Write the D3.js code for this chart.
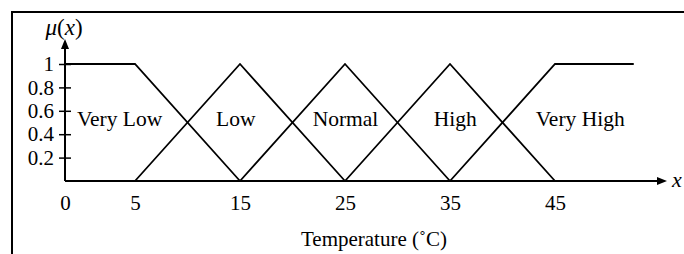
<!DOCTYPE html>
<html>
<head>
<meta charset="utf-8">
<script src="https://cdn.jsdelivr.net/npm/d3@7"></script>
<style>
  body { margin: 0; background: #fff; }
  text { font-family: "Liberation Serif", "Times New Roman", serif; fill: #000; }
</style>
</head>
<body>
<script>
// fuzzy sets for temperature, breakpoints as [x, mu]
var setNames = ["Very Low", "Low", "Normal", "High", "Very High"];
var veryLow  = [[0, 1], [5, 1], [15, 0]];
var low      = [[5, 0], [15, 1], [25, 0]];
var normal   = [[15, 0], [25, 1], [35, 0]];
var high     = [[25, 0], [35, 1], [45, 0]];
var veryHigh = [[35, 0], [45, 1], [52.5, 1]];
var setLines = [veryLow, low, normal, high, veryHigh];

// where each set's name sits, in data units
var labelX = [3.9, 14.6, 25.05, 35.5, 47.4];
var labelY = 0.47;

var xTicks = [0, 5, 15, 25, 35, 45];
var yTicks = [0.2, 0.4, 0.6, 0.8, 1];

var width = 684, height = 254;

var svg = d3.select("body").append("svg")
    .attr("width", width)
    .attr("height", height);

// frame (only top and left edges fall inside the picture)
svg.append("rect")
    .attr("x", 12).attr("y", 12)
    .attr("width", 700).attr("height", 300)
    .attr("fill", "none")
    .attr("stroke", "#000")
    .attr("stroke-width", 2);

// the 0..5 stretch is drawn wider than the rest
var x = d3.scaleLinear()
    .domain([0, 5, 45])
    .range([65, 135, 555]);

var y = d3.scaleLinear()
    .domain([0, 1])
    .range([181, 64]);

var line = d3.line()
    .x(function(d) { return x(d[0]); })
    .y(function(d) { return y(d[1]); });

svg.selectAll(".mf")
    .data(setLines)
    .enter()
    .append("path")
    .attr("class", "mf")
    .attr("d", line)
    .attr("fill", "none")
    .attr("stroke", "#000")
    .attr("stroke-width", 1.8);

// axes lines with arrows
svg.append("line")
    .attr("x1", x(0)).attr("y1", y(0))
    .attr("x2", 660).attr("y2", y(0))
    .attr("stroke", "#000").attr("stroke-width", 2);
svg.append("path")
    .attr("d", "M667," + y(0) + "L657," + (y(0) - 4) + "L657," + (y(0) + 4) + "Z")
    .attr("fill", "#000");

svg.append("line")
    .attr("x1", x(0)).attr("y1", y(0))
    .attr("x2", x(0)).attr("y2", 46)
    .attr("stroke", "#000").attr("stroke-width", 2);
svg.append("path")
    .attr("d", "M" + x(0) + ",39L" + (x(0) - 4) + ",49L" + (x(0) + 4) + ",49Z")
    .attr("fill", "#000");

// y axis ticks
var yAxis = d3.axisLeft(y)
    .tickValues(yTicks)
    .tickSize(6)
    .tickPadding(5)
    .tickFormat(function(d) { return d === 1 ? "1" : d3.format(".1f")(d); });

var gy = svg.append("g")
    .attr("transform", "translate(" + x(0) + ",0)")
    .call(yAxis);
gy.select(".domain").remove();
gy.selectAll(".tick line")
    .attr("x1", -6).attr("x2", 6)
    .attr("stroke", "#000").attr("stroke-width", 1.5);
gy.selectAll(".tick text")
    .attr("font-family", "Liberation Serif")
    .attr("font-size", 21)
    .attr("fill", "#000");

// x axis labels, no tick marks
var xAxis = d3.axisBottom(x)
    .tickValues(xTicks)
    .tickSize(0)
    .tickPadding(14);

var gx = svg.append("g")
    .attr("transform", "translate(0," + y(0) + ")")
    .call(xAxis);
gx.select(".domain").remove();
gx.selectAll(".tick text")
    .attr("font-family", "Liberation Serif")
    .attr("font-size", 21)
    .attr("fill", "#000");

// set names
svg.selectAll(".setlabel")
    .data(setNames)
    .enter()
    .append("text")
    .attr("class", "setlabel")
    .attr("x", function(d, i) { return x(labelX[i]); })
    .attr("y", y(labelY))
    .attr("text-anchor", "middle")
    .attr("font-size", 21.5)
    .text(function(d) { return d; });

// axis titles
var mu = svg.append("text")
    .attr("x", 64)
    .attr("y", 35)
    .attr("text-anchor", "middle")
    .attr("font-size", 23);
mu.append("tspan").attr("font-style", "italic").text("μ");
mu.append("tspan").text("(");
mu.append("tspan").attr("font-style", "italic").text("x");
mu.append("tspan").text(")");

svg.append("text")
    .attr("x", 672)
    .attr("y", 187)
    .attr("font-style", "italic")
    .attr("font-size", 22)
    .text("x");

svg.append("text")
    .attr("x", 374)
    .attr("y", 246)
    .attr("text-anchor", "middle")
    .attr("font-size", 21)
    .text("Temperature (˚C)");
</script>
</body>
</html>
